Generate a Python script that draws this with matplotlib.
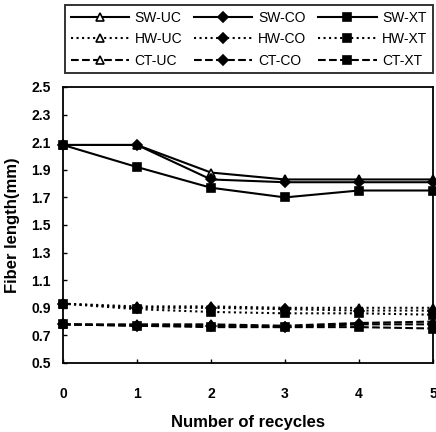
import matplotlib
matplotlib.use("Agg")
import matplotlib.pyplot as plt

plt.rcParams["font.family"] = ["Liberation Sans", "DejaVu Sans"]

recycles = [0, 1, 2, 3, 4, 5]

sw_uc = [2.08, 2.08, 1.88, 1.83, 1.83, 1.83]
sw_co = [2.08, 2.08, 1.83, 1.81, 1.81, 1.81]
sw_xt = [2.08, 1.92, 1.77, 1.70, 1.75, 1.75]
hw_uc = [0.93, 0.91, 0.91, 0.90, 0.90, 0.90]
hw_co = [0.93, 0.90, 0.90, 0.89, 0.88, 0.88]
hw_xt = [0.93, 0.89, 0.87, 0.86, 0.86, 0.85]
ct_uc = [0.78, 0.78, 0.78, 0.77, 0.79, 0.80]
ct_co = [0.78, 0.77, 0.77, 0.76, 0.78, 0.78]
ct_xt = [0.78, 0.77, 0.76, 0.76, 0.76, 0.75]

yticks = [0.5, 0.7, 0.9, 1.1, 1.3, 1.5, 1.7, 1.9, 2.1, 2.3, 2.5]

fig = plt.figure(figsize=(4.36, 4.32), dpi=100)
ax = fig.add_axes([63 / 436, 1 - 363 / 432, 370 / 436, 276 / 432])

# (label, data, linestyle, marker)
series = [
    ("SW-UC", sw_uc, "-", "^"),
    ("HW-UC", hw_uc, ":", "^"),
    ("CT-UC", ct_uc, "--", "^"),
    ("SW-CO", sw_co, "-", "D"),
    ("HW-CO", hw_co, ":", "D"),
    ("CT-CO", ct_co, "--", "D"),
    ("SW-XT", sw_xt, "-", "s"),
    ("HW-XT", hw_xt, ":", "s"),
    ("CT-XT", ct_xt, "--", "s"),
]

for label, data, ls, mk in series:
    face = "white" if mk == "^" else "black"
    size = 5 if mk == "D" else 6
    ax.plot(recycles, data, color="black", linestyle=ls, linewidth=1.5,
            marker=mk, markersize=size, markerfacecolor=face,
            markeredgecolor="black", markeredgewidth=1.2, label=label,
            clip_on=False)

ax.set_xlim(0, 5)
ax.set_ylim(0.5, 2.5)
ax.set_yticks(yticks)
ax.set_yticklabels([f"{v:.1f}" for v in yticks])
ax.set_xticks(recycles)
ax.tick_params(direction="in", length=3, width=1, labelsize=10)
ax.tick_params(axis="x", pad=17)
ax.tick_params(axis="y", pad=9)
for t in ax.get_xticklabels() + ax.get_yticklabels():
    t.set_fontweight("bold")
for s in ax.spines.values():
    s.set_linewidth(1.3)

ax.set_xlabel("Number of recycles", fontsize=12, fontweight="bold", labelpad=10)
ax.set_ylabel("Fiber length(mm)", fontsize=12, fontweight="bold", labelpad=8)

leg = fig.legend(loc="upper left", ncol=3, mode="expand",
                 bbox_to_anchor=(65 / 436, 1 - 80 / 432, 368 / 436, 75 / 432),
                 fontsize=10, handlelength=4.2, handletextpad=0.4,
                 borderaxespad=0, fancybox=False, frameon=True,
                 labelspacing=0.55, borderpad=0.4)
leg.get_frame().set_edgecolor("black")
leg.get_frame().set_linewidth(1.4)

fig.savefig("out.png", dpi=100)
